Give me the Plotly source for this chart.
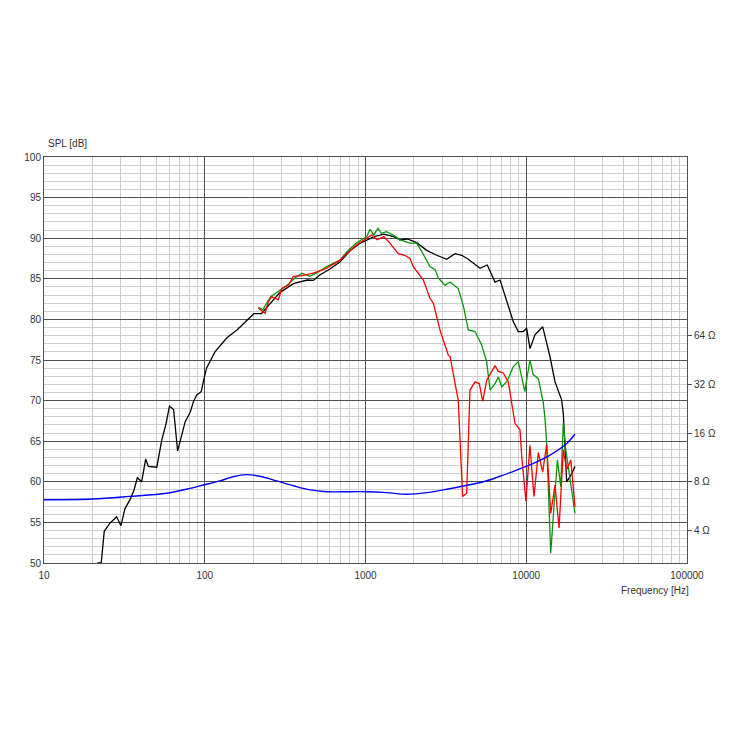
import plotly.graph_objects as go
import numpy as np

# ---- Data ----
black_f = [21.5, 22.7, 23.7, 25.7, 28.3, 30.1, 31.9, 34.3, 36.3, 38.1, 40.5, 42.9, 44.6, 50.3,
           54.1, 57.5, 60.3, 64.0, 67.8, 75.6, 81.3, 85.1, 89.2, 95.1, 98.4, 102.6, 115.7, 136.8,
           158.6, 187.6, 202, 225, 257, 293, 356, 434, 474, 522, 601, 695, 806, 931, 1027, 1130,
           1300, 1500, 1639, 1820, 2082, 2404, 2773, 3200, 3603, 3966, 4363, 5155, 5724, 6391,
           6873, 7558, 8313, 8925, 9586, 10061, 10550, 11330, 12650, 14050, 15100, 16600, 17000,
           17420, 17850, 19180, 20100]
black_db = [50.0, 50.0, 53.9, 54.9, 55.7, 54.6, 56.7, 57.8, 59.0, 60.5, 60.0, 62.8, 61.9, 61.8,
            65.2, 67.2, 69.3, 68.9, 63.8, 67.4, 68.6, 69.9, 70.7, 71.1, 72.5, 74.0, 76.0, 77.7,
            78.7, 80.1, 80.7, 80.7, 82.0, 83.3, 84.4, 84.85, 84.8, 85.5, 86.2, 87.1, 88.5, 89.4, 89.8, 90.2,
            90.5, 90.2, 89.8, 89.9, 89.45, 88.5, 87.9, 87.4, 88.1, 87.9, 87.4, 86.3, 86.7, 84.6,
            84.85, 82.4, 79.7, 78.5, 78.5, 78.9, 76.4, 78.1, 79.1, 75.4, 72.3, 70.1, 68.4,
            64.3, 60.0, 61.0, 61.9]

red_f = [215, 237, 249, 261, 287, 301, 331, 356, 400, 474, 574, 694, 764, 881, 1017, 1093, 1182,
         1300, 1419, 1599, 1750, 1891, 1982, 2290, 2519, 2644, 2906, 3049, 3275, 3360, 3778, 4018,
         4260, 4465, 4801, 5104, 5358, 5673, 5953, 6398, 6705, 7200, 7731, 8110, 8511, 9142, 9380,
         9955, 10540, 11170, 11890, 12650, 13400, 14200, 15100, 16000, 17000, 17850, 18920, 20100]
red_db = [81.4, 80.75, 82.2, 82.8, 82.4, 83.8, 84.2, 85.3, 85.4, 85.7, 86.3, 87.3, 88.1, 89.2, 90.0, 90.4, 89.8,
          90.2, 89.4, 88.1, 87.9, 87.5, 86.5, 84.85, 82.6, 82.0, 78.7, 77.5, 75.6, 75.4, 70.0, 58.2,
          58.6, 71.3, 72.3, 72.1, 69.9, 72.5, 73.2, 74.3, 73.6, 73.4, 72.3, 69.5, 67.2, 66.4, 63.1,
          57.6, 64.5, 58.2, 63.6, 61.2, 64.6, 56.1, 59.6, 54.3, 63.9, 61.5, 62.7, 56.9]

green_f = [215, 230, 257, 281, 325, 364, 402, 450, 495, 574, 694, 764, 881, 1017, 1067, 1125, 1195,
           1257, 1350, 1487, 1639, 1891, 2082, 2290, 2519, 2715, 2834, 3125, 3360, 3778, 4068, 4363,
           4801, 5280, 5673, 5953, 6398, 6705, 7040, 7558, 8313, 8925, 9800, 10540, 11050, 11890,
           12770, 13080, 13400, 13710, 14200, 14930, 15630, 16390, 17000, 17640, 18730, 20100]
green_db = [81.5, 81.2, 82.8, 83.3, 84.2, 85.1, 85.7, 85.3, 85.7, 86.5, 87.3, 88.3, 89.45, 90.2, 91.1, 90.4, 91.2,
            90.6, 90.8, 90.4, 89.8, 89.4, 89.4, 88.0, 86.5, 86.1, 85.1, 84.2, 84.6, 83.8, 81.6, 78.7,
            78.5, 76.85, 74.8, 71.3, 72.1, 72.9, 71.7, 72.3, 74.2, 74.8, 71.1, 75.0, 73.2, 72.7,
            69.7, 67.8, 64.7, 59.4, 51.2, 57.4, 62.7, 59.4, 67.2, 63.9, 60.2, 56.1]

imp_f = [10, 20, 34, 58, 77, 98, 124, 150, 182, 221, 280, 356, 452, 574, 802, 1017, 1355, 1805,
         2404, 3049, 4065, 5413, 6873, 8716, 11070, 14050, 17850, 20100]
imp_ohm = [6.2, 6.27, 6.5, 6.8, 7.2, 7.64, 8.1, 8.6, 8.86, 8.65, 8.1, 7.56, 7.13, 6.95, 6.95, 6.95,
           6.86, 6.7, 6.86, 7.13, 7.54, 8.0, 8.66, 9.45, 10.4, 11.7, 13.8, 15.8]

x_ticks = [10, 100, 1000, 10000, 100000]
x_ticklabels = ["10", "100", "1000", "10000", "100000"]
spl_ticks = [50, 55, 60, 65, 70, 75, 80, 85, 90, 95, 100]
imp_ticks = [4, 8, 16, 32, 64]
imp_ticklabels = ["4 Ω", "8 Ω", "16 Ω", "32 Ω", "64 Ω"]

# impedance axis: 8 Ω at 60 dB, 6 dB per doubling
spl_range = [50, 100]
imp_range = [np.log10(8 * 2 ** ((v - 60) / 6)) for v in spl_range]

FONT = "Liberation Sans"
TXT = "#333333"
MAJ = "#505050"
MIN = "#d0d0d0"

fig = go.Figure()
fig.add_trace(go.Scatter(x=imp_f, y=imp_ohm, mode="lines", yaxis="y2",
                         line=dict(color="#0000ff", width=1.4), line_shape="spline", showlegend=False))
fig.add_trace(go.Scatter(x=black_f, y=black_db, mode="lines",
                         line=dict(color="#000000", width=1.3), showlegend=False))
fig.add_trace(go.Scatter(x=green_f, y=green_db, mode="lines",
                         line=dict(color="#0a960a", width=1.3), showlegend=False))
fig.add_trace(go.Scatter(x=red_f, y=red_db, mode="lines",
                         line=dict(color="#ff0000", width=1.3), showlegend=False))

fig.update_layout(
    width=741, height=741,
    margin=dict(l=36, r=62, t=149, b=186, autoexpand=False),
    paper_bgcolor="white", plot_bgcolor="white",
    font=dict(family=FONT, size=10, color=TXT),
    xaxis=dict(type="log", range=[1, 5], tickvals=x_ticks, ticktext=x_ticklabels,
               showgrid=True, gridcolor=MAJ, gridwidth=1,
               minor=dict(dtick="D1", showgrid=True, gridcolor=MIN, gridwidth=1, ticks=""),
               showline=True, linecolor=MAJ, linewidth=1, mirror=True,
               ticks="", ticklabelstandoff=3, zeroline=False, tickfont=dict(size=10, color=TXT)),
    yaxis=dict(range=spl_range, tickvals=spl_ticks, showgrid=True, gridcolor=MAJ, gridwidth=1,
               minor=dict(dtick=1, showgrid=True, gridcolor=MIN, gridwidth=1, ticks=""),
               showline=True, linecolor=MAJ, linewidth=1, mirror=True,
               ticks="", zeroline=False, tickfont=dict(size=10, color=TXT)),
    yaxis2=dict(type="log", range=imp_range, overlaying="y", side="right",
                tickvals=imp_ticks, ticktext=imp_ticklabels, showgrid=False,
                ticks="outside", ticklen=4, tickcolor=MAJ, zeroline=False,
                tickfont=dict(size=10, color=TXT)),
    annotations=[
        dict(text="SPL [dB]", xref="paper", yref="paper", x=0, y=1, xanchor="left",
             yanchor="middle", xshift=2, yshift=14, showarrow=False,
             font=dict(family=FONT, size=10, color=TXT)),
        dict(text="Frequency [Hz]", xref="paper", yref="paper", x=1, y=0, xanchor="right",
             yanchor="middle", xshift=4, yshift=-27, showarrow=False,
             font=dict(family=FONT, size=10, color=TXT)),
    ],
)

fig.write_html("out.html")
